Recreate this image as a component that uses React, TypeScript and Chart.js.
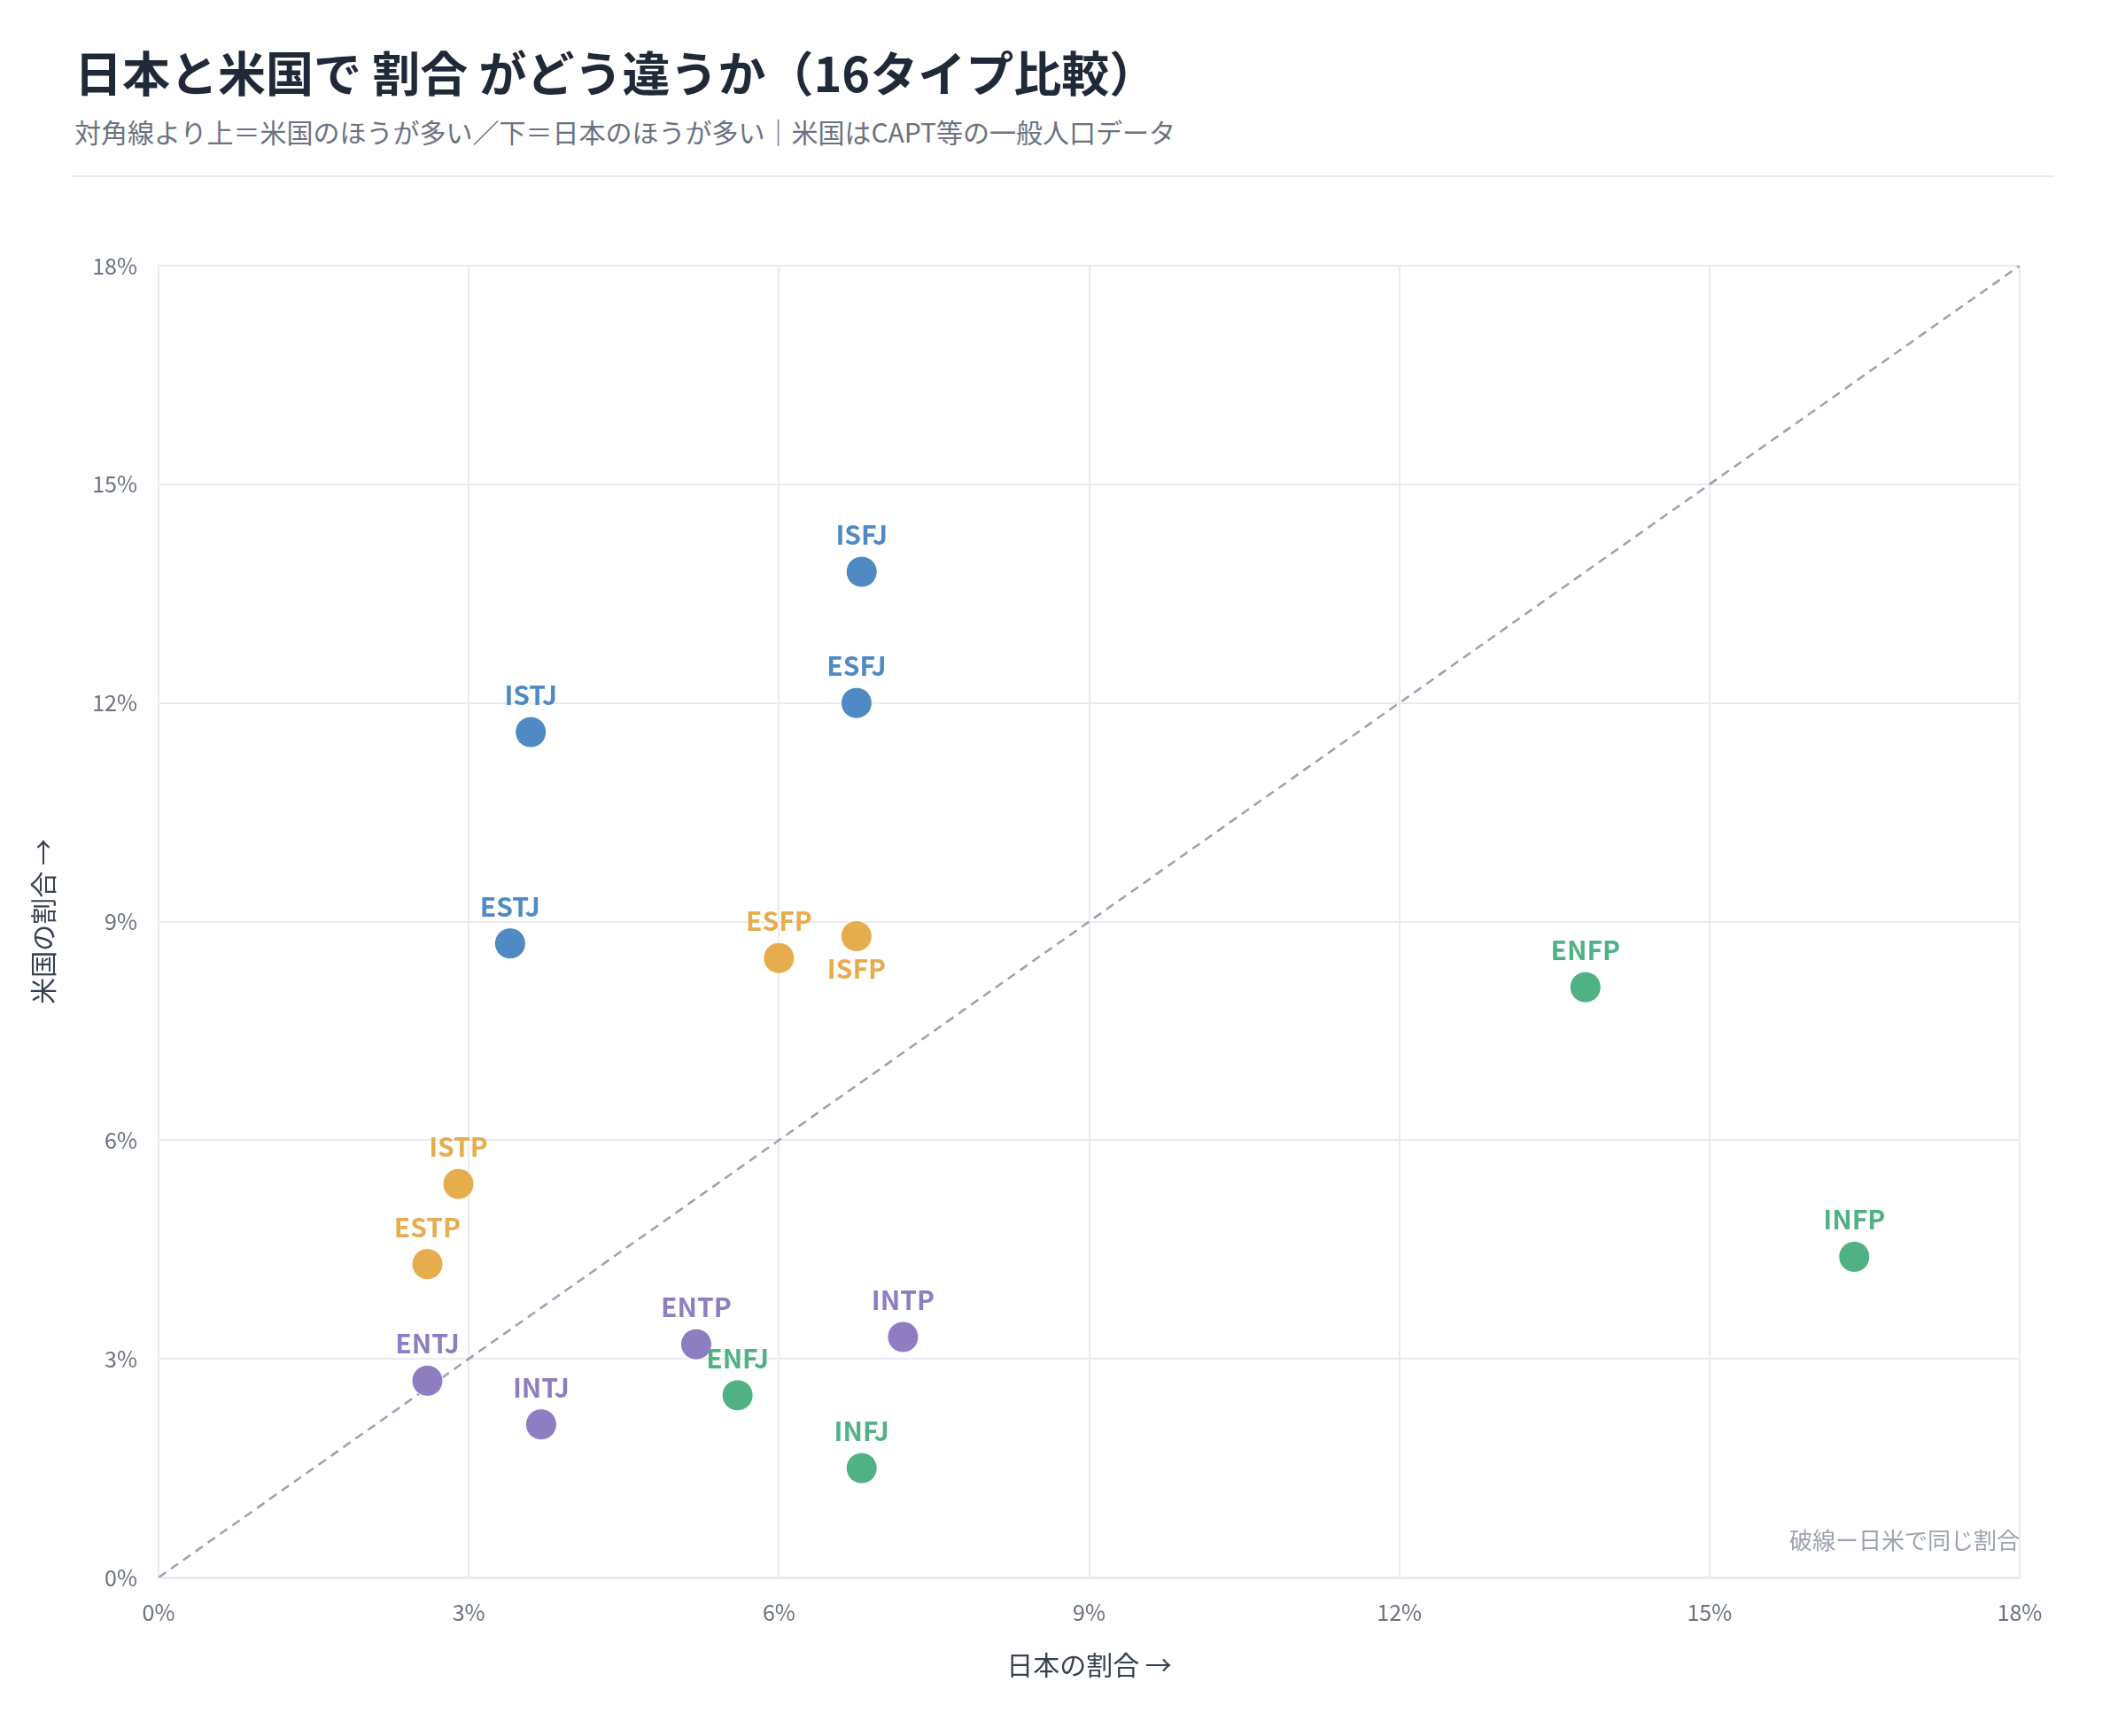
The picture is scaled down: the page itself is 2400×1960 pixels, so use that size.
import React, { useEffect, useRef } from "react";
import { Chart, registerables } from "chart.js";

Chart.register(...registerables);

const FONT = "'Noto Sans CJK JP', 'Noto Sans', sans-serif";

// 16 types, share in Japan (x) and in the US (y), percent
const types = ["ISTJ", "ISFJ", "INFJ", "INTJ", "ISTP", "ISFP", "INFP", "INTP", "ESTP", "ESFP", "ENFP", "ENTP", "ESTJ", "ESFJ", "ENFJ", "ENTJ"];
const japanPct = [3.6, 6.8, 6.8, 3.7, 2.9, 6.75, 16.4, 7.2, 2.6, 6.0, 13.8, 5.2, 3.4, 6.75, 5.6, 2.6];
const usPct = [11.6, 13.8, 1.5, 2.1, 5.4, 8.8, 4.4, 3.3, 4.3, 8.5, 8.1, 3.2, 8.7, 12.0, 2.5, 2.7];
const labelBelow = ["ISFP"];
const diagonal = [0, 18];
const axisMin = 0;
const axisMax = 18;
const axisStep = 3;

const groupColors: Record<string, string> = {
    SJ: "#4f8ac4",
    SP: "#e6ad4f",
    NF: "#50b184",
    NT: "#8e7dc0",
};

function groupOf(t: string) {
    if (t[1] === "S") return t[3] === "J" ? "SJ" : "SP";
    return t[2] === "F" ? "NF" : "NT";
}

const pointColors = types.map((t) => groupColors[groupOf(t)]);
const noteText = "破線ー日米で同じ割合";

const labelPlugin = {
    id: "typeLabels",
    afterDatasetsDraw(chart: any) {
        const ctx = chart.ctx;
        const meta = chart.getDatasetMeta(1);
        ctx.save();
        ctx.font = `bold 30px ${FONT}`;
        ctx.textAlign = "center";
        ctx.textBaseline = "middle";
        meta.data.forEach((pt: any, i: number) => {
            const below = labelBelow.includes(types[i]);
            ctx.fillStyle = pointColors[i];
            ctx.fillText(types[i], pt.x, pt.y + (below ? 37 : -42));
        });
        // note in the bottom right corner
        const area = chart.chartArea;
        ctx.font = `26px ${FONT}`;
        ctx.fillStyle = "#9ca3af";
        ctx.textAlign = "right";
        ctx.fillText(noteText, area.right, area.bottom - 42);
        ctx.restore();
    },
};

function ScatterChart() {
    const canvasRef = useRef<HTMLCanvasElement | null>(null);

    useEffect(() => {
        if (!canvasRef.current) return;
        const gridColor = "#e9ebef";
        const chart = new Chart(canvasRef.current, {
            type: "scatter",
            data: {
                datasets: [
                    {
                        type: "line",
                        data: diagonal.map((v) => ({ x: v, y: v })),
                        borderColor: "#9aa1b1",
                        borderWidth: 2.5,
                        borderDash: [10, 7],
                        pointRadius: 0,
                        fill: false,
                        order: 2,
                    },
                    {
                        data: types.map((_, i) => ({ x: japanPct[i], y: usPct[i] })),
                        backgroundColor: pointColors,
                        borderColor: "#ffffff",
                        borderWidth: 1,
                        pointRadius: 17.5,
                        order: 1,
                    },
                ] as any,
            },
            options: {
                animation: false,
                responsive: true,
                maintainAspectRatio: false,
                layout: { padding: { left: 0, right: 112, top: 80, bottom: 0 } },
                plugins: {
                    legend: { display: false },
                    tooltip: { enabled: false },
                },
                scales: {
                    x: {
                        type: "linear",
                        min: axisMin,
                        max: axisMax,
                        ticks: {
                            stepSize: axisStep,
                            padding: 24,
                            color: "#6b7280",
                            font: { family: FONT, size: 25 },
                            callback: (v: any) => v + "%",
                        },
                        grid: { color: gridColor, lineWidth: 2, drawTicks: false },
                        border: { color: gridColor, width: 3 },
                        title: {
                            display: true,
                            text: "日本の割合 →",
                            color: "#374151",
                            font: { family: FONT, size: 30 },
                            padding: { top: 0, bottom: 22 },
                        },
                        afterFit: (scale: any) => {
                            scale.height = 139;
                        },
                    },
                    y: {
                        type: "linear",
                        min: axisMin,
                        max: axisMax,
                        ticks: {
                            stepSize: axisStep,
                            padding: 24,
                            color: "#6b7280",
                            font: { family: FONT, size: 25 },
                            callback: (v: any) => v + "%",
                        },
                        grid: { color: gridColor, lineWidth: 2, drawTicks: false },
                        border: { color: gridColor, width: 2 },
                        title: {
                            display: true,
                            text: "米国の割合 →",
                            color: "#374151",
                            font: { family: FONT, size: 30 },
                            padding: { top: 23, bottom: 0 },
                        },
                        afterFit: (scale: any) => {
                            scale.width = 171;
                        },
                    },
                },
            },
            plugins: [labelPlugin],
        });
        return () => chart.destroy();
    }, []);

    return <canvas ref={canvasRef}></canvas>;
}

export default function App() {
    return (
        <div style={{ position: "relative", width: 2384, height: 1930, fontFamily: FONT, background: "#ffffff" }}>
            <div style={{ position: "absolute", left: 76, top: 46, fontSize: 54, lineHeight: 1, fontWeight: 700, color: "#1f2937", whiteSpace: "nowrap" }}>
                日本と米国で 割合 がどう違うか（16タイプ比較）
            </div>
            <div style={{ position: "absolute", left: 76, top: 125, fontSize: 30, lineHeight: 1, color: "#6b7280", whiteSpace: "nowrap" }}>
                対角線より上＝米国のほうが多い／下＝日本のほうが多い｜米国はCAPT等の一般人口データ
            </div>
            <div style={{ position: "absolute", left: 72, top: 190, width: 2239, height: 2, background: "#e8eaee" }}></div>
            <div style={{ position: "absolute", left: 0, top: 212, width: 2384, height: 1700 }}>
                <ScatterChart />
            </div>
        </div>
    );
}
